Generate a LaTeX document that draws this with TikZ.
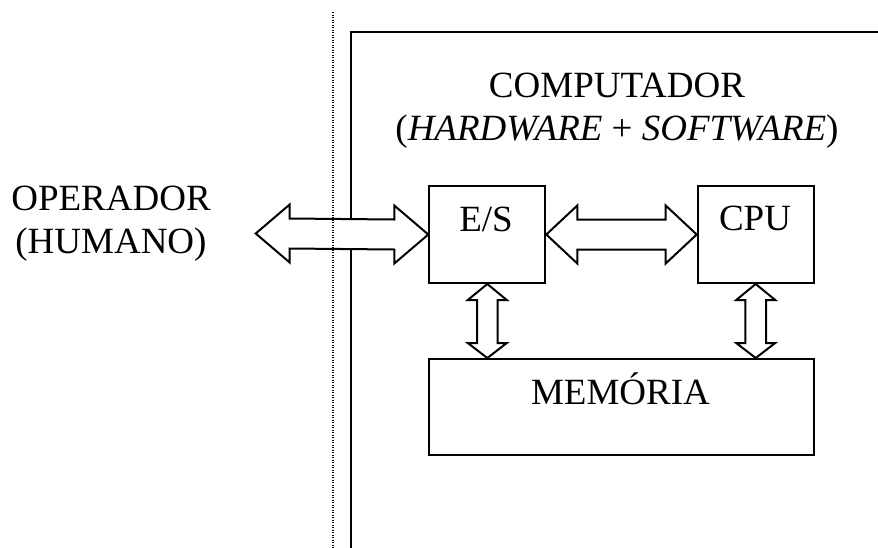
\documentclass[tikz,border=0pt]{standalone}
\usepackage{fontspec}
\setmainfont{Liberation Serif}
\usetikzlibrary{calc}
\tikzset{
  box/.style={draw, line width=2pt, minimum width=#1, inner sep=0pt, anchor=north west},
  box/.default=116pt,
  lbl/.style={inner sep=0pt, anchor=base, font=\fontsize{37}{43}\selectfont, align=center},
  arr/.style={draw, line width=2pt, fill=white, line join=miter},
  frame/.style={line width=2pt},
  sep/.style={line width=1.6pt, dash pattern=on 1.4pt off 1.1pt},
}
\newcommand\harrowpath[3]{% left point, right point, head length
  (#1) -- ([xshift=#3,yshift=29pt]#1) -- ([xshift=#3,yshift=15pt]#1)
  -- ([xshift=-#3,yshift=15pt]#2) -- ([xshift=-#3,yshift=29pt]#2) -- (#2)
  -- ([xshift=-#3,yshift=-29pt]#2) -- ([xshift=-#3,yshift=-15pt]#2)
  -- ([xshift=#3,yshift=-15pt]#1) -- ([xshift=#3,yshift=-29pt]#1) -- cycle}
\newcommand\varrowpath[2]{% top point, bottom point
  (#1) -- ([xshift=19.5pt,yshift=-16pt]#1) -- ([xshift=10.3pt,yshift=-16pt]#1)
  -- ([xshift=10.3pt,yshift=15pt]#2) -- ([xshift=19.5pt,yshift=15pt]#2) -- (#2)
  -- ([xshift=-19.5pt,yshift=15pt]#2) -- ([xshift=-10.3pt,yshift=15pt]#2)
  -- ([xshift=-10.3pt,yshift=-16pt]#1) -- ([xshift=-19.5pt,yshift=-16pt]#1) -- cycle}
\begin{document}
\begin{tikzpicture}[x=1pt,y=-1pt]
\useasboundingbox (0,0) rectangle (878,547);
% computer frame
\coordinate (fbot) at (351.3,548);
\coordinate (fcorner) at (351.3,32);
\coordinate (fright) at (879,32);
\draw[frame] (fbot) -- (fcorner) -- (fright);
% boxes
\node[box, minimum height=97pt] (es) at (428.3,185) {};
\node[box, minimum height=97pt] (cpu) at (696.7,185) {};
\node[box=385.6pt, minimum height=96pt] (mem) at (427.7,358) {};
% texts
\node[lbl] (estxt) at (486,231.5) {E/S};
\node[lbl] (cputxt) at (755,230.5) {CPU};
\node[lbl] (memtxt) at (620.5,404) {MEMÓRIA};
\node[lbl] (comp) at (617,140) {COMPUTADOR\\(\textit{HARDWARE} + \textit{SOFTWARE})};
\node[lbl] (oper) at (111,253) {OPERADOR\\(HUMANO)};
% arrows
\coordinate (optip) at (255.7,233.5);
\draw[arr] \harrowpath{optip}{es.west}{34pt};
\draw[arr] \harrowpath{es.east}{cpu.west}{31pt};
\coordinate (esmem) at (es.south |- mem.north);
\coordinate (cpumem) at (cpu.south |- mem.north);
\draw[arr] \varrowpath{es.south}{esmem};
\draw[arr] \varrowpath{cpu.south}{cpumem};
% separator
\coordinate (septop) at (332.7,12);
\coordinate (sepbot) at (332.7,548);
\draw[sep] (septop) -- (sepbot);
\end{tikzpicture}
\end{document}
